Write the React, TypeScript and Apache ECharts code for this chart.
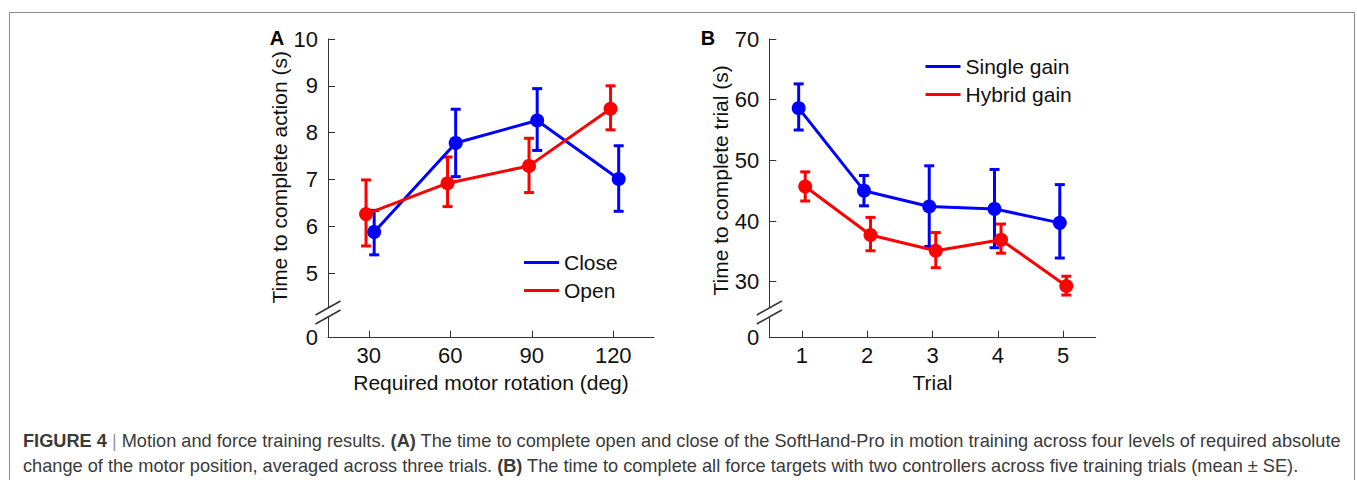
import React, { useEffect, useRef } from "react";
import * as echarts from "echarts";

// Panel A data
const rotations = [30, 60, 90, 120];
const closeMean = [5.88, 7.78, 8.26, 7.01];
const closeHi = [6.34, 8.5, 8.94, 7.72];
const closeLo = [5.39, 7.06, 7.62, 6.32];
const openMean = [6.26, 6.92, 7.29, 8.51];
const openHi = [6.99, 7.48, 7.88, 9.0];
const openLo = [5.58, 6.42, 6.72, 8.06];
const closeShift = 2;
const openShift = -1;
const yTicksA = [5, 6, 7, 8, 9, 10];

// Panel B data
const trials = [1, 2, 3, 4, 5];
const singleMean = [58.6, 45.0, 42.4, 42.0, 39.7];
const singleHi = [62.6, 47.5, 49.1, 48.5, 46.0];
const singleLo = [55.0, 42.5, 35.8, 35.6, 33.9];
const hybridMean = [45.7, 37.7, 35.1, 36.9, 29.3];
const hybridHi = [48.1, 40.6, 38.1, 39.5, 30.9];
const hybridLo = [43.3, 35.1, 32.3, 34.7, 27.8];
const singleShift = -0.05;
const hybridShift = 0.05;
const yTicksB = [30, 40, 50, 60, 70];

const BLUE = "#0000ff";
const RED = "#ff0000";
const FONT = "Liberation Sans, Arial, sans-serif";

const caption1 =
  "{b|FIGURE 4} {s||} Motion and force training results. {b|(A)} The time to complete open and close of the SoftHand-Pro in motion training across four levels of required absolute";
const caption2 =
  "change of the motor position, averaged across three trials. {b|(B)} The time to complete all force targets with two controllers across five training trials (mean ± SE).";

function errSeries(name: string, xs: number[], shift: number, lo: number[], hi: number[], color: string, idx: number) {
  return {
    type: "custom",
    name: name + "_err",
    xAxisIndex: idx,
    yAxisIndex: idx,
    z: 3,
    silent: true,
    data: xs.map((x, i) => [x + shift, lo[i], hi[i]]),
    renderItem: (params: any, api: any) => {
      const x = api.value(0);
      const top = api.coord([x, api.value(2)]);
      const bot = api.coord([x, api.value(1)]);
      const hw = 5;
      const st = { stroke: color, lineWidth: 3 };
      return {
        type: "group",
        children: [
          { type: "line", shape: { x1: top[0], y1: top[1], x2: bot[0], y2: bot[1] }, style: st },
          { type: "line", shape: { x1: top[0] - hw, y1: top[1], x2: top[0] + hw, y2: top[1] }, style: st },
          { type: "line", shape: { x1: bot[0] - hw, y1: bot[1], x2: bot[0] + hw, y2: bot[1] }, style: st },
        ],
      };
    },
  };
}

function lineSeries(name: string, xs: number[], shift: number, ys: number[], color: string, idx: number) {
  return {
    type: "line",
    name,
    xAxisIndex: idx,
    yAxisIndex: idx,
    z: 4,
    data: xs.map((x, i) => [x + shift, ys[i]]),
    symbol: "circle",
    symbolSize: 14,
    lineStyle: { color, width: 3 },
    itemStyle: { color },
  };
}

function breakMarks(axisX: number) {
  const c = "#333";
  return [
    { type: "rect", z: 100, shape: { x: axisX - 3, y: 308, width: 6, height: 9 }, style: { fill: "#fff" } },
    { type: "line", z: 101, shape: { x1: axisX - 12.5, y1: 315, x2: axisX + 12.5, y2: 301 }, style: { stroke: c, lineWidth: 1.5 } },
    { type: "line", z: 101, shape: { x1: axisX - 12.5, y1: 324, x2: axisX + 12.5, y2: 310 }, style: { stroke: c, lineWidth: 1.5 } },
  ];
}

export default function App() {
  const ref = useRef<HTMLDivElement>(null);
  useEffect(() => {
    document.body.style.margin = "0";
    const chart = echarts.init(ref.current!, null, { renderer: "svg" });
    const axisLine = { show: true, lineStyle: { color: "#333", width: 1 } };
    const tick = { show: true, inside: true, length: 7, lineStyle: { color: "#333", width: 1 } };
    const lbl = { color: "#111", fontSize: 21, fontFamily: FONT };
    const tlbl = { color: "#111", fontSize: 22, fontFamily: FONT };
    const minA = 3.62;
    const minB = 20.77;
    const option: any = {
      animation: false,
      backgroundColor: "#fff",
      textStyle: { fontFamily: FONT },
      grid: [
        { left: 328, top: 39, width: 326, height: 298.7 },
        { left: 769.3, top: 39, width: 326.4, height: 298.7 },
      ],
      xAxis: [
        {
          type: "value", gridIndex: 0, min: 15, max: 135,
          axisLine, splitLine: { show: false },
          axisTick: { ...tick, customValues: rotations },
          axisLabel: { ...tlbl, margin: 7, customValues: rotations },
          name: "Required motor rotation (deg)", nameLocation: "middle", nameGap: 31,
          nameTextStyle: { ...lbl },
        },
        {
          type: "value", gridIndex: 1, min: 0.5, max: 5.5,
          axisLine, splitLine: { show: false },
          axisTick: { ...tick, customValues: trials },
          axisLabel: { ...tlbl, margin: 7, customValues: trials },
          name: "Trial", nameLocation: "middle", nameGap: 31,
          nameTextStyle: { ...lbl },
        },
      ],
      yAxis: [
        {
          type: "value", gridIndex: 0, min: minA, max: 10,
          axisLine, splitLine: { show: false },
          axisTick: { ...tick, customValues: yTicksA },
          axisLabel: { ...tlbl, margin: 10, customValues: [minA, ...yTicksA], formatter: (v: number) => (v < 4 ? "0" : String(v)) },
          name: "Time to complete action (s)", nameLocation: "middle", nameGap: 37,
          nameTextStyle: { ...lbl, padding: [0, 0, 0, 22] },
        },
        {
          type: "value", gridIndex: 1, min: minB, max: 70,
          axisLine, splitLine: { show: false },
          axisTick: { ...tick, customValues: yTicksB },
          axisLabel: { ...tlbl, margin: 10, customValues: [minB, ...yTicksB], formatter: (v: number) => (v < 25 ? "0" : String(v)) },
          name: "Time to complete trial (s)", nameLocation: "middle", nameGap: 37,
          nameTextStyle: { ...lbl, padding: [0, 0, 0, 16] },
        },
      ],
      legend: [
        {
          data: [{ name: "Close" }, { name: "Open" }],
          left: 519, top: 247, orient: "vertical", icon: "rect", itemWidth: 35, itemHeight: 3, itemGap: 7,
          textStyle: { ...lbl }, selectedMode: false,
        },
        {
          data: [{ name: "Single gain" }, { name: "Hybrid gain" }],
          left: 920.5, top: 51, orient: "vertical", icon: "rect", itemWidth: 35, itemHeight: 3, itemGap: 7,
          textStyle: { ...lbl }, selectedMode: false,
        },
      ],
      series: [
        errSeries("Close", rotations, closeShift, closeLo, closeHi, BLUE, 0),
        errSeries("Open", rotations, openShift, openLo, openHi, RED, 0),
        lineSeries("Close", rotations, closeShift, closeMean, BLUE, 0),
        lineSeries("Open", rotations, openShift, openMean, RED, 0),
        errSeries("Single gain", trials, singleShift, singleLo, singleHi, BLUE, 1),
        errSeries("Hybrid gain", trials, hybridShift, hybridLo, hybridHi, RED, 1),
        lineSeries("Single gain", trials, singleShift, singleMean, BLUE, 1),
        lineSeries("Hybrid gain", trials, hybridShift, hybridMean, RED, 1),
      ],
      graphic: [
        { type: "rect", z: 0, shape: { x: 9.5, y: 12.5, width: 1345, height: 600 }, style: { fill: "none", stroke: "#888", lineWidth: 1 } },
        ...breakMarks(328),
        ...breakMarks(769.3),
        { type: "text", z: 100, x: 277, y: 38, style: { text: "A", font: `bold 20px ${FONT}`, fill: "#000", align: "center", verticalAlign: "middle" } },
        { type: "text", z: 100, x: 708, y: 38, style: { text: "B", font: `bold 20px ${FONT}`, fill: "#000", align: "center", verticalAlign: "middle" } },
        {
          type: "text", z: 100, x: 23, y: 441,
          style: {
            text: caption1, font: `18.2px ${FONT}`, fill: "#3a3a3a", verticalAlign: "middle",
            rich: { b: { fontWeight: "bold", fontSize: 18.2, fontFamily: FONT, fill: "#3a3a3a" }, s: { fill: "#999", fontSize: 18.2, fontFamily: FONT } },
          },
        },
        {
          type: "text", z: 100, x: 23, y: 466,
          style: {
            text: caption2, font: `18.2px ${FONT}`, fill: "#3a3a3a", verticalAlign: "middle",
            rich: { b: { fontWeight: "bold", fontSize: 18.2, fontFamily: FONT, fill: "#3a3a3a" } },
          },
        },
      ],
    };
    chart.setOption(option);
    return () => chart.dispose();
  }, []);
  return <div ref={ref} style={{ width: 1357, height: 480 }} />;
}
